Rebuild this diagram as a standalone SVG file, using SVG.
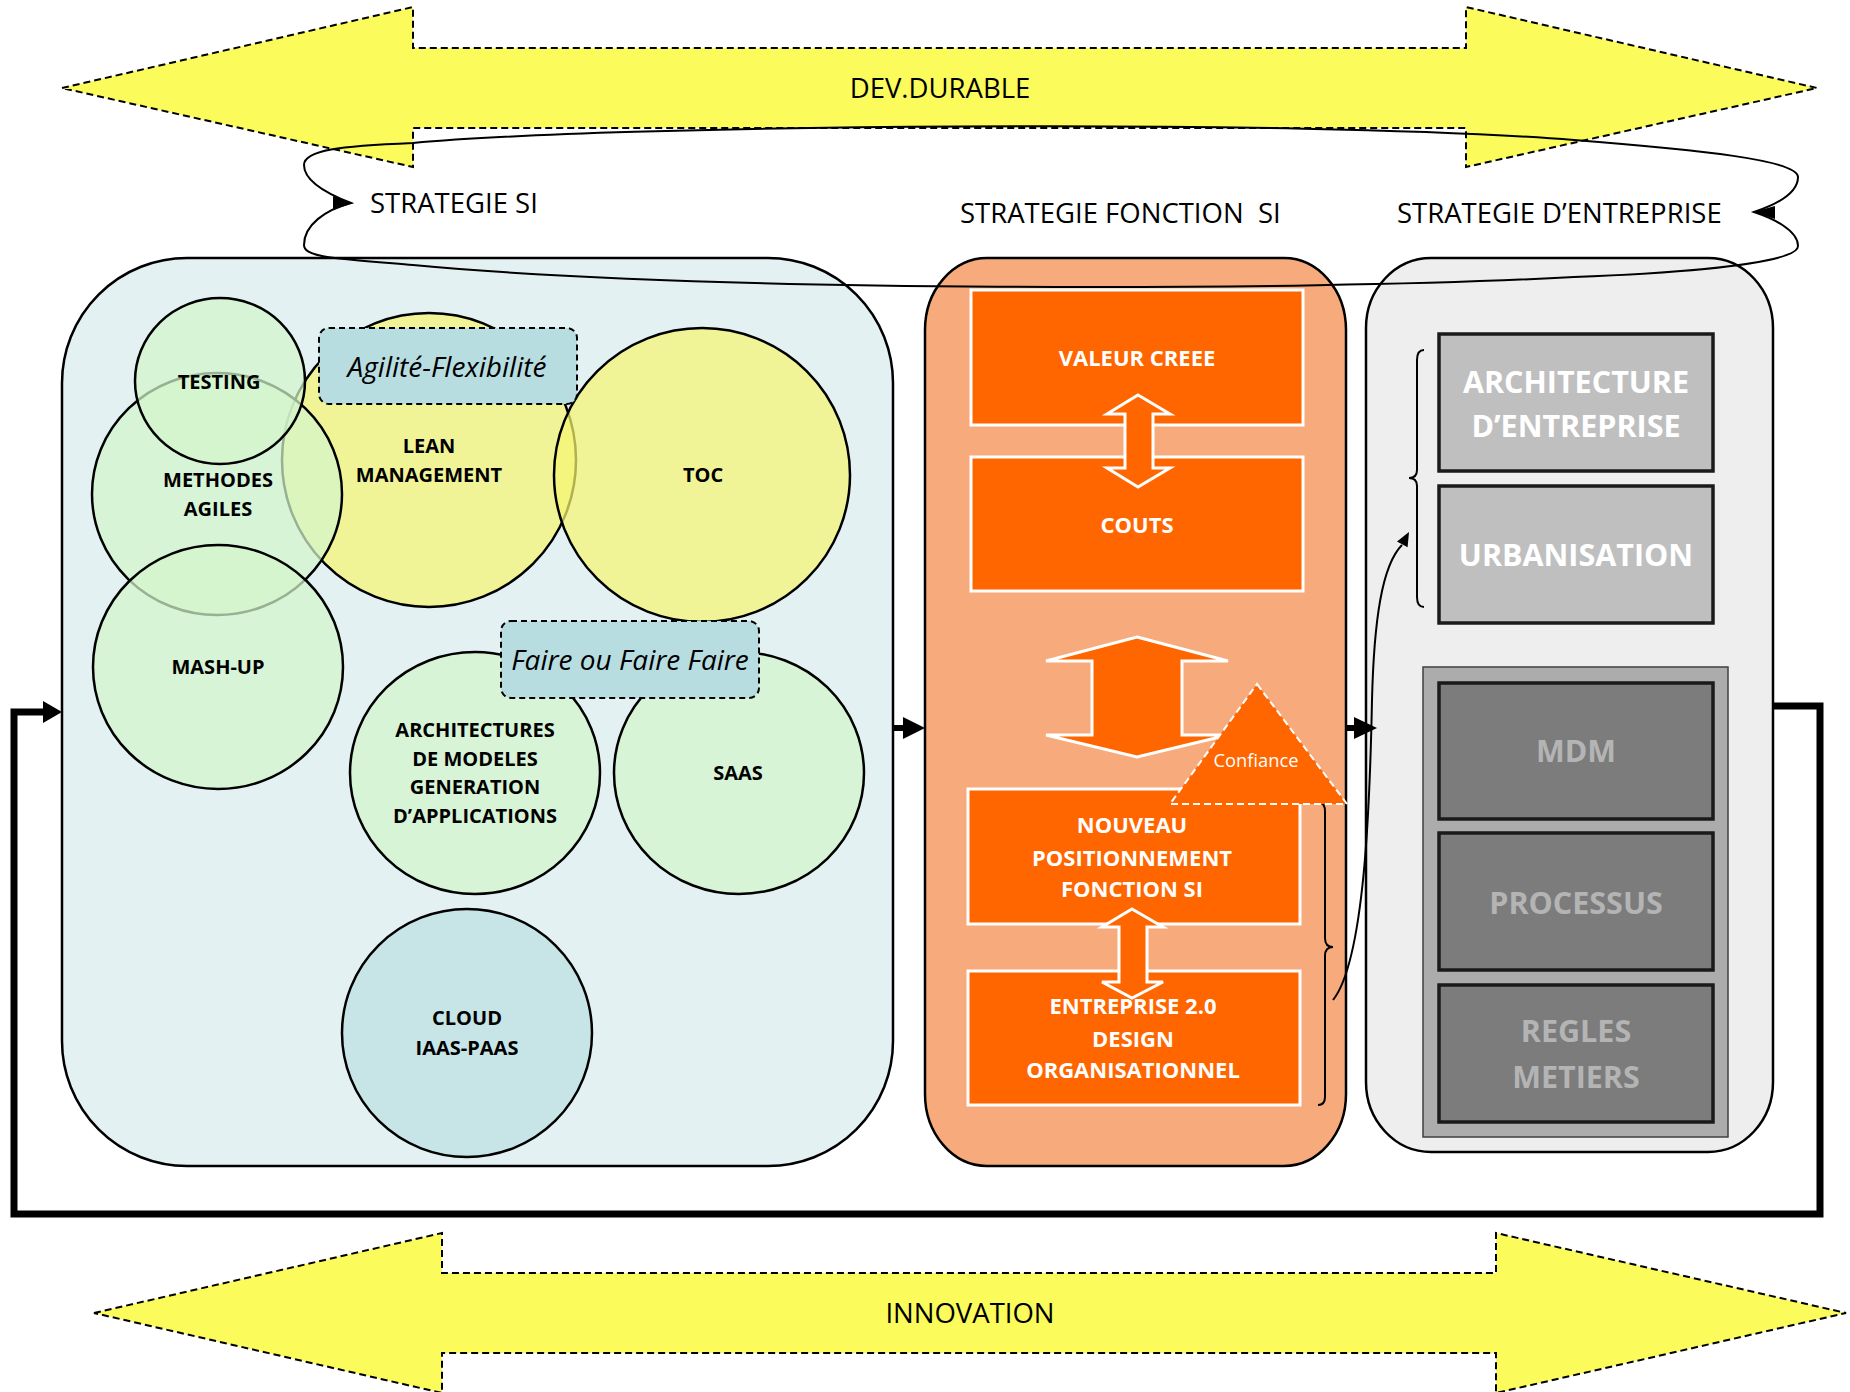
<svg xmlns="http://www.w3.org/2000/svg" width="1850" height="1392" viewBox="0 0 1850 1392">
<style>
text{font-family:'Open Sans','Liberation Sans',sans-serif;}
.big{fill:#fbfb5c;stroke:#000;stroke-width:2;stroke-dasharray:7,4;}
.lbl{font-size:27.5px;fill:#000;}
.c{text-anchor:middle;}
.circ{stroke:#000;stroke-width:2.5;fill-opacity:0.72;}
.green{fill:#d3f5cb;}
.yellow{fill:#f5f572;}
.blue{fill:#c3e3e6;fill-opacity:0.9;}
.cl{font-size:20px;font-weight:bold;fill:#000;}
.tag{fill:#b7dde0;stroke:#000;stroke-width:2;stroke-dasharray:6,4;}
.it{font-size:28px;font-style:italic;fill:#000;}
.or{fill:#ff6600;stroke:#fff;stroke-width:3;}
.ort{font-size:22px;font-weight:bold;fill:#fff;}
.gr{fill:#bfbfbf;stroke:#1a1a1a;stroke-width:3.5;}
.dg{fill:#7c7c7c;stroke:#1a1a1a;stroke-width:3.5;}
.grt{font-size:30.5px;font-weight:bold;fill:#fff;}
.dgt{font-size:30.5px;font-weight:bold;fill:#b4b4b4;}
.thin{fill:none;stroke:#000;stroke-width:2;}
.head{fill:#000;}
</style>

<g id="dev-durable">
<polygon class="big" points="62,88 413,7 413,48 1466,48 1466,7 1817,88 1466,167 1466,128 413,128 413,167"/>
<text class="lbl c" x="940" y="98">DEV.DURABLE</text>
</g>

<g id="innovation">
<polygon class="big" points="94,1313 442,1233 442,1273 1496,1273 1496,1233 1846,1313 1496,1393 1496,1353 442,1353 442,1393"/>
<text class="lbl c" x="970" y="1323">INNOVATION</text>
</g>

<g id="strategie-si-box">
<rect x="62" y="258" width="831" height="908" rx="125" ry="125" fill="#e3f1f3" stroke="#000" stroke-width="2.5"/>
</g>

<g id="strategie-fonction-box">
<rect x="925" y="258" width="421" height="908" rx="62" ry="72" fill="#f7ab7c" stroke="#000" stroke-width="2.5"/>
</g>

<g id="strategie-entreprise-box">
<rect x="1366" y="258" width="407" height="894" rx="65" ry="70" fill="#eeeeee" stroke="#000" stroke-width="2.5"/>
</g>

<g id="lean">
<ellipse class="circ yellow" cx="429" cy="460" rx="147" ry="147"/>
</g>
<g id="toc">
<ellipse class="circ yellow" cx="702" cy="475" rx="148" ry="147"/>
</g>
<g id="methodes-agiles">
<ellipse class="circ green" cx="217" cy="494" rx="125" ry="121"/>
</g>
<g id="testing">
<ellipse class="circ green" cx="220" cy="381" rx="85" ry="83"/>
</g>
<g id="mash-up">
<ellipse class="circ green" cx="218" cy="667" rx="125" ry="122"/>
</g>
<g id="architectures">
<ellipse class="circ green" cx="475" cy="773" rx="125" ry="121"/>
</g>
<g id="saas">
<ellipse class="circ green" cx="739" cy="773" rx="125" ry="121"/>
</g>
<g id="cloud">
<ellipse class="circ blue" cx="467" cy="1033" rx="125" ry="124"/>
</g>

<g id="circle-labels">
<text class="cl c" x="219" y="389">TESTING</text>
<text class="cl c" x="218" y="487">METHODES</text>
<text class="cl c" x="218" y="516">AGILES</text>
<text class="cl c" x="429" y="453">LEAN</text>
<text class="cl c" x="429" y="482">MANAGEMENT</text>
<text class="cl c" x="703" y="482">TOC</text>
<text class="cl c" x="218" y="674">MASH-UP</text>
<text class="cl c" x="475" y="737">ARCHITECTURES</text>
<text class="cl c" x="475" y="766">DE MODELES</text>
<text class="cl c" x="475" y="794">GENERATION</text>
<text class="cl c" x="475" y="823">D’APPLICATIONS</text>
<text class="cl c" x="738" y="780">SAAS</text>
<text class="cl c" x="467" y="1025">CLOUD</text>
<text class="cl c" x="467" y="1055">IAAS-PAAS</text>
</g>

<g id="agilite">
<rect class="tag" x="319" y="328" width="258" height="76" rx="10"/>
<text class="it c" x="447" y="377">Agilité-Flexibilité</text>
</g>
<g id="faire">
<rect class="tag" x="501" y="621" width="258" height="77" rx="10"/>
<text class="it c" x="630" y="670">Faire ou Faire Faire</text>
</g>

<g id="valeur-creee">
<rect class="or" x="971" y="290" width="332" height="135"/>
<text class="ort c" x="1137" y="366">VALEUR CREEE</text>
</g>
<g id="couts">
<rect class="or" x="971" y="457" width="332" height="134"/>
<text class="ort c" x="1137" y="533">COUTS</text>
</g>
<g id="nouveau">
<rect class="or" x="968" y="789" width="332" height="135"/>
<text class="ort c" x="1132" y="833">NOUVEAU</text>
<text class="ort c" x="1132" y="866">POSITIONNEMENT</text>
<text class="ort c" x="1132" y="897">FONCTION SI</text>
</g>
<g id="entreprise">
<rect class="or" x="968" y="971" width="332" height="134"/>
<text class="ort c" x="1133" y="1014">ENTREPRISE 2.0</text>
<text class="ort c" x="1133" y="1047">DESIGN</text>
<text class="ort c" x="1133" y="1078">ORGANISATIONNEL</text>
</g>

<g id="connectors">
<polygon class="or" stroke-width="2.5" points="1138,395 1170,414 1153,414 1153,468 1170,468 1138,487 1107,468 1125,468 1125,414 1107,414"/>
<polygon class="or" stroke-width="2" points="1137,637 1228,661 1182,661 1182,735 1228,735 1137,757 1046,735 1092,735 1092,661 1046,661"/>
<polygon class="or" stroke-width="2.5" points="1132,909 1163,927 1147,927 1147,982 1163,982 1132,998 1102,982 1119,982 1119,927 1102,927"/>
<path class="thin" d="M351,203 C325,193 304,180 304,165 C304,150 340,146 413,143 C600,125 1300,118 1574,140 C1700,150 1798,160 1798,177 C1798,195 1772,206 1754,212 C1772,218 1798,230 1798,246 C1798,262 1700,272 1574,277 C1300,292 700,292 413,265 C330,258 304,257 304,245 C304,225 325,210 351,203 Z"/>
<polygon class="head" points="333,196 353,203 333,210"/>
<polygon class="head" points="1775,206 1753,212 1775,219"/>
<path class="thin" d="M1320,803 Q1325,803 1325,812 L1325,938 Q1325,947 1333,947 Q1325,947 1325,956 L1325,1097 Q1325,1105 1318,1105"/>
<path class="thin" d="M1424,350 Q1417,350 1417,360 L1417,470 Q1417,478 1409,478 Q1417,478 1417,486 L1417,597 Q1417,607 1424,607"/>
<path class="thin" d="M1333,1000 C1365,960 1370,800 1372,700 C1374,620 1382,565 1402,545"/>
<polygon class="head" points="1409,532 1407.6,547.2 1397,541.4"/>
<line x1="893" y1="728" x2="906" y2="728" stroke="#000" stroke-width="6"/>
<polygon class="head" points="903,717 925,728 903,739"/>
<line x1="1346" y1="728" x2="1357" y2="728" stroke="#000" stroke-width="6"/>
<polygon class="head" points="1354,717 1377,728 1354,739"/>
<polyline fill="none" stroke="#000" stroke-width="7" points="1773,706 1820,706 1820,1214 14,1214 14,712 46,712"/>
<polygon class="head" points="43,701 62,712 43,723"/>
</g>

<g id="confiance">
<polygon fill="#ff6600" stroke="#fff" stroke-width="2" stroke-dasharray="7,4" points="1257,684 1347,804 1170,804"/>
<text x="1256" y="767" font-size="18.3" fill="#fff" text-anchor="middle">Confiance</text>
</g>

<g id="architecture-entreprise">
<rect class="gr" x="1439" y="334" width="274" height="137"/>
<text class="grt c" x="1576" y="393">ARCHITECTURE</text>
<text class="grt c" x="1576" y="437">D’ENTREPRISE</text>
</g>
<g id="urbanisation">
<rect class="gr" x="1439" y="486" width="274" height="137"/>
<text class="grt c" x="1576" y="566">URBANISATION</text>
</g>
<g id="socle">
<rect x="1423" y="667" width="305" height="470" fill="#acacac" stroke="#404040" stroke-width="1.5"/>
</g>
<g id="mdm">
<rect class="dg" x="1439" y="683" width="274" height="136"/>
<text class="dgt c" x="1576" y="762">MDM</text>
</g>
<g id="processus">
<rect class="dg" x="1439" y="833" width="274" height="137"/>
<text class="dgt c" x="1576" y="914">PROCESSUS</text>
</g>
<g id="regles">
<rect class="dg" x="1439" y="985" width="274" height="137"/>
<text class="dgt c" x="1576" y="1042">REGLES</text>
<text class="dgt c" x="1576" y="1088">METIERS</text>
</g>

<g id="strategy-labels">
<text class="lbl" x="370" y="213">STRATEGIE SI</text>
<text class="lbl" x="960" y="223" xml:space="preserve">STRATEGIE FONCTION  SI</text>
<text class="lbl" x="1397" y="223">STRATEGIE D’ENTREPRISE</text>
</g>
</svg>
